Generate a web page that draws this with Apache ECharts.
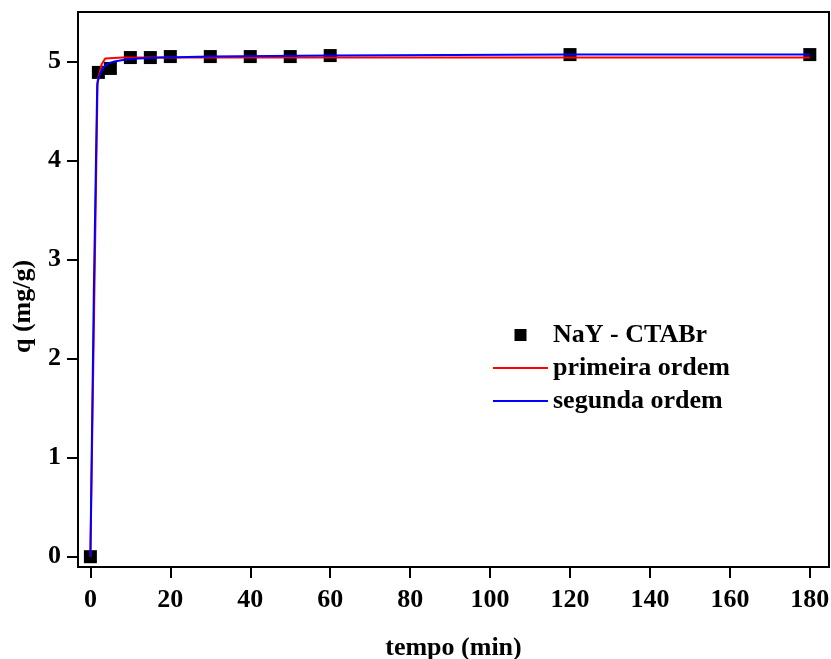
<!DOCTYPE html>
<html>
<head>
<meta charset="utf-8">
<script src="https://cdn.jsdelivr.net/npm/echarts@6/dist/echarts.min.js"></script>
<style>
  html, body { margin: 0; padding: 0; background: #fff; }
  #chart { width: 831px; height: 659px; }
</style>
</head>
<body>
<div id="chart"></div>
<script>
// measured points (tempo in min, q in mg/g)
var tempo = [0, 2, 5, 10, 15, 20, 30, 40, 50, 60, 120, 180];
var qExp = [0, 4.89, 4.93, 5.04, 5.04, 5.05, 5.05, 5.05, 5.05, 5.06, 5.07, 5.07];

// fitted curves
var t1 = [0, 1.8, 2.8, 3.7, 8, 180];
var q1 = [0, 4.8, 4.97, 5.03, 5.04, 5.04];
var t2 = [0, 1.7, 2.5, 3.7, 6, 12, 30, 60, 120, 180];
var q2 = [0, 4.75, 4.88, 4.96, 5.0, 5.03, 5.05, 5.06, 5.07, 5.07];

var xTicks = [0, 20, 40, 60, 80, 100, 120, 140, 160, 180];
var yTicks = [0, 1, 2, 3, 4, 5];

function pairs(xs, ys) {
    return xs.map(function(x, i) { return [x, ys[i]]; });
}

var font = 'Liberation Serif';
var lineIcon = 'path://M0,0H55V2H0Z';
var myChart = echarts.init(document.getElementById('chart'));

var option = {
    animation: false,
    backgroundColor: '#fff',
    grid: {
        left: 78, right: 2, top: 12, bottom: 92,
        outerBoundsMode: 'none',
        containLabel: false,
        show: true, borderColor: '#000', borderWidth: 2
    },
    legend: {
        orient: 'vertical',
        left: 488,
        top: 317,
        itemWidth: 55,
        itemHeight: 12,
        itemGap: 7,
        symbolKeepAspect: true,
        textStyle: { fontFamily: font, fontWeight: 'bold', fontSize: 26, color: '#000' },
        data: [
            { name: 'NaY - CTABr', icon: 'path://M0,0H10V10H0Z' },
            { name: 'primeira ordem', icon: lineIcon },
            { name: 'segunda ordem', icon: lineIcon }
        ]
    },
    xAxis: {
        type: 'value',
        min: -3.1,
        max: 184.8,
        name: 'tempo (min)',
        nameLocation: 'middle',
        nameGap: 68,
        nameTextStyle: { fontFamily: font, fontWeight: 'bold', fontSize: 26, color: '#000' },
        axisLine: { onZero: false, lineStyle: { color: '#000', width: 2 } },
        axisTick: { show: true, customValues: xTicks, length: 11, lineStyle: { color: '#000', width: 2 } },
        axisLabel: { customValues: xTicks, margin: 20, fontFamily: font, fontWeight: 'bold', fontSize: 26, color: '#000' },
        splitLine: { show: false }
    },
    yAxis: {
        type: 'value',
        min: -0.104,
        max: 5.5,
        name: 'q (mg/g)',
        nameLocation: 'middle',
        nameGap: 42,
        nameTextStyle: { fontFamily: font, fontWeight: 'bold', fontSize: 26, color: '#000', padding: [0, 0, 0, -34] },
        axisLine: { show: true, onZero: false, lineStyle: { color: '#000', width: 2 } },
        axisTick: { show: true, customValues: yTicks, length: 11, lineStyle: { color: '#000', width: 2 } },
        axisLabel: { customValues: yTicks, margin: 17, fontFamily: font, fontWeight: 'bold', fontSize: 26, color: '#000' },
        splitLine: { show: false }
    },
    series: [
        {
            name: 'NaY - CTABr',
            type: 'scatter',
            symbol: 'rect',
            symbolSize: 13,
            itemStyle: { color: '#000', opacity: 1 },
            z: 2,
            data: pairs(tempo, qExp)
        },
        {
            name: 'primeira ordem',
            type: 'line',
            showSymbol: false,
            symbol: 'none',
            lineStyle: { color: '#ff0000', width: 2 },
            itemStyle: { color: '#ff0000' },
            z: 3,
            data: pairs(t1, q1)
        },
        {
            name: 'segunda ordem',
            type: 'line',
            showSymbol: false,
            symbol: 'none',
            smooth: 0.3,
            lineStyle: { color: '#0000ff', width: 2 },
            itemStyle: { color: '#0000ff' },
            z: 4,
            data: pairs(t2, q2)
        }
    ]
};
myChart.setOption(option);
</script>
</body>
</html>
